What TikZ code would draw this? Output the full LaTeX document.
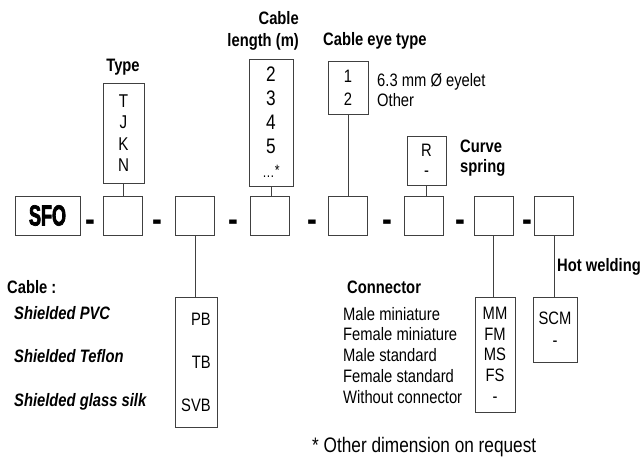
\documentclass[tikz,border=0pt]{standalone}
\usepackage{fontspec}
\setmainfont{Liberation Sans}[FakeStretch=0.82]
\newfontfamily\sfofont{Liberation Sans Bold}[FakeStretch=0.62, FakeBold=2.5]

\begin{document}
\begin{tikzpicture}[x=1pt, y=-1pt,
  field/.style={draw=black!75, line width=0.9pt, minimum width=39pt, minimum height=39pt, inner sep=0pt},
  choice/.style={draw=black!75, line width=0.9pt, inner sep=0pt, align=center},
  head/.style={font=\fontsize{18}{21.5}\selectfont\bfseries, inner sep=0pt},
  note/.style={font=\fontsize{18}{20.7}\selectfont, inner sep=0pt, align=left},
  sep/.style={font=\fontsize{36}{36}\selectfont\bfseries, inner sep=0pt},
  link/.style={draw=black!75, line width=0.9pt}
]
  \useasboundingbox (0,0) rectangle (643,456);

  % code row
  \node[field, minimum width=65pt] (sfo) at (47.5,215.5) {\sfofont\fontsize{29}{29}\selectfont SFO};
  \node[field] (type)   at (122.5,215.5) {};
  \node[field] (cable)  at (195,215.5) {};
  \node[field] (length) at (270,215.5) {};
  \node[field] (eye)    at (347.5,215.5) {};
  \node[field] (spring) at (424,215.5) {};
  \node[field] (conn)   at (493.5,215.5) {};
  \node[field] (weld)   at (554,215.5) {};
  \foreach \x [count=\i] in {90,157,233,312,387,460,527}
    \node[sep] (dash\i) at (\x,226) {-};

  % choices
  \node[choice, minimum width=41pt, minimum height=100pt, font=\fontsize{18.5}{21.5}\selectfont] (typelist) at (123.5,133) {T\\J\\K\\N};
  \node[choice, minimum width=44pt, minimum height=127pt, font=\fontsize{21}{24}\selectfont] (lenlist) at (271,122.5)
    {2\\3\\4\\5\\{\fontsize{15}{15}\selectfont\ldots\raisebox{2pt}{*}}};
  \node[choice, minimum width=40pt, minimum height=53pt, font=\fontsize{18}{23}\selectfont] (eyelist) at (348,87.5) {1\\2};
  \node[choice, minimum width=39pt, minimum height=49pt, font=\fontsize{18}{20}\selectfont] (springlist) at (426.5,160.5) {R\\-};
  \node[choice, minimum width=42pt, minimum height=130pt, align=right, font=\fontsize{18}{43}\selectfont] (cablelist) at (196,362) {PB\\TB\\SVB};
  \node[choice, minimum width=40pt, minimum height=115pt, font=\fontsize{18}{20.7}\selectfont] (connlist) at (495,354.5) {MM\\FM\\MS\\FS\\-};
  \node[choice, minimum width=44pt, minimum height=65pt, font=\fontsize{18}{22}\selectfont] (weldlist) at (555,329.5) {SCM\\-};

  \draw[link] (typelist.south) -- (typelist.south |- type.north);
  \draw[link] (lenlist.south) -- (lenlist.south |- length.north);
  \draw[link] (eyelist.south) -- (eyelist.south |- eye.north);
  \draw[link] (springlist.south) -- (springlist.south |- spring.north);
  \draw[link] (cable.south) -- (cable.south |- cablelist.north);
  \draw[link] (conn.south) -- (conn.south |- connlist.north);
  \draw[link] (weld.south) -- (weld.south |- weldlist.north);

  % labels
  \node[head, anchor=base] (typehead) at (123,71.7) {Type};
  \node[head, anchor=base east, align=right] (lenhead) at (299,46) {Cable\\length (m)};
  \node[head, anchor=base west] (eyehead) at (323,45) {Cable eye type};
  \node[note, anchor=base west, font=\fontsize{18}{20.7}\selectfont] (eyenote) at (377,106.7) {6.3 mm Ø eyelet\\Other};
  \node[head, anchor=base west, align=left, font=\fontsize{18}{20}\selectfont\bfseries] (springhead) at (460,172) {Curve\\spring};
  \node[head, anchor=base west] (weldhead) at (557,271.7) {Hot welding};
  \node[head, anchor=base west] (connhead) at (347,293) {Connector};
  \node[note, anchor=base west] (connnote) at (343,403) {Male miniature\\Female miniature\\Male standard\\Female standard\\Without connector};
  \node[head, anchor=base west] (cablehead) at (7,293) {Cable :};
  \node[head, anchor=base west, align=left, font=\fontsize{18}{43.5}\selectfont\bfseries\itshape] (cablenote) at (14,406) {Shielded PVC\\Shielded Teflon\\Shielded glass silk};
  \node[anchor=base west, inner sep=0pt, font=\fontsize{21}{21}\selectfont] (request) at (312,452) {* Other dimension on request};
\end{tikzpicture}
\end{document}
